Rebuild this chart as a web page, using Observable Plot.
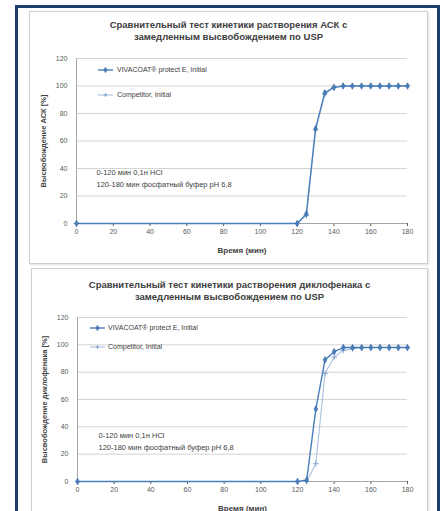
<!DOCTYPE html>
<html>
<head>
<meta charset="utf-8">
<script src="https://cdn.jsdelivr.net/npm/d3@7"></script>
<script src="https://cdn.jsdelivr.net/npm/@observablehq/plot@0.6"></script>
<style>
  body { margin:0; width:443px; height:511px; overflow:hidden; background:#fff; position:relative;
         font-family:"Liberation Sans", Arial, sans-serif; }
  #frame { position:absolute; left:15px; top:5px; width:419px; height:540px;
           border:3px solid #1d3e68; border-bottom:none; }
  .panel { position:absolute; background:#fff; border:1px solid #cfcfcf;
           box-shadow: 1px 1px 2px rgba(0,0,0,0.12); overflow:hidden; }
  .title { text-align:center; font-weight:bold; font-size:9.5px; line-height:12px; color:#404040; }
  .panel svg { display:block; }
</style>
</head>
<body>
<div id="frame"></div>
<div id="p1" class="panel" style="left:29px;top:11px;width:397px;height:251px"></div>
<div id="p2" class="panel" style="left:31px;top:268px;width:395px;height:262px"></div>
<script>
// ---- data ----
const time = [0, 120, 125, 130, 135, 140, 145, 150, 155, 160, 165, 170, 175, 180];
const ascVivacoat   = [0, 0, 7, 69, 95, 99, 100, 100, 100, 100, 100, 100, 100, 100];
const ascCompetitor = [0, 0, 6, 68, 94, 99, 100, 100, 100, 100, 100, 100, 100, 100];
const dicVivacoat   = [0, 0, 1, 53, 89, 95, 98, 98, 98, 98, 98, 98, 98, 98];
const dicCompetitor = [0, 0, 0, 13, 79, 91, 96, 97, 98, 98, 98, 98, 98, 98];
const seriesNames = ["VIVACOAT® protect E, Initial", "Competitor, Initial"];
const xTicks = [0, 20, 40, 60, 80, 100, 120, 140, 160, 180];
const yTicks = [0, 20, 40, 60, 80, 100, 120];
const gridTicks = [20, 40, 60, 80, 100, 120];
const titles1 = ["Сравнительный тест кинетики растворения АСК с", "замедленным высвобождением по USP"];
const titles2 = ["Сравнительный тест кинетики растворения диклофенака с", "замедленным высвобождением по USP"];
const yLabel1 = "Высвобождение АСК [%]";
const yLabel2 = "Высвобождение диклофенака [%]";
const xLabel = "Время (мин)";
const annotationLines = ["0-120 мин 0,1н HCl", "120-180 мин фосфатный буфер pH 6,8"];

// ---- styles ----
const styles = [
  {color: "#4a7ebb", width: 1.4, fill: "#4a7ebb", stroke: "#2f5f9e", r: 2},
  {color: "#a9c0e0", width: 1.1, fill: "none", stroke: "#7f9fcf", r: 2}
];

function legendMark(o) {
  return (index, scales, values, dim) => {
    const g = d3.create("svg:g")
      .attr("font-family", "Liberation Sans, Arial, sans-serif")
      .attr("font-size", 7).attr("fill", "#404040").attr("text-anchor", "start");
    const x0 = dim.marginLeft, y0 = dim.marginTop;
    const sym = [d3.symbolDiamond, d3.symbolCross];
    styles.forEach((st, i) => {
      const y = y0 + o.rows[i];
      g.append("line").attr("x1", x0 + o.lx1).attr("x2", x0 + o.lx2)
        .attr("y1", y).attr("y2", y).attr("stroke", st.color).attr("stroke-width", st.width);
      g.append("path").attr("d", d3.symbol(sym[i], i === 0 ? 9 : 6)())
        .attr("transform", `translate(${x0 + (o.lx1 + o.lx2) / 2},${y})`)
        .attr("fill", i === 0 ? st.fill : st.stroke).attr("stroke", st.stroke).attr("stroke-width", i === 0 ? 0.5 : 0);
      g.append("text").attr("x", x0 + o.tx).attr("y", y).attr("dy", "0.35em")
        .attr("text-anchor", "start").text(seriesNames[i]);
    });
    return g.node();
  };
}

function makeChart(o) {
  const panel = document.getElementById(o.id);
  const t = document.createElement("div");
  t.className = "title";
  t.style.paddingTop = o.titlePad + "px";
  t.style.height = (o.titleH - o.titlePad) + "px";
  t.innerHTML = o.titles.map(s => `<div>${s}</div>`).join("");
  panel.appendChild(t);

  const rows = [];
  [o.viv, o.comp].forEach((arr, si) => time.forEach((tt, i) => rows.push({t: tt, v: arr[i], s: si})));
  const viv = rows.filter(d => d.s === 0), comp = rows.filter(d => d.s === 1);

  const chart = Plot.plot({
    width: o.width, height: o.height,
    marginLeft: o.ml, marginRight: o.mr, marginTop: o.mt, marginBottom: o.mb,
    style: {fontFamily: "Liberation Sans, Arial, sans-serif", fontSize: "7px", color: "#595959", background: "#fff", overflow: "visible"},
    x: {domain: [0, 180], ticks: xTicks, tickSize: 3, tickPadding: 3, label: null},
    y: {domain: [0, 120], ticks: yTicks, tickSize: 0, tickPadding: 9, label: null},
    marks: [
      Plot.ruleY(gridTicks, {stroke: "#d4d4d4", strokeWidth: 1}),
      Plot.ruleY([0], {stroke: "#a6a6a6"}),
      Plot.ruleX([0], {stroke: "#a6a6a6"}),
      Plot.line(comp, {x: "t", y: "v", stroke: styles[1].color, strokeWidth: styles[1].width}),
      Plot.dot(comp, {x: "t", y: "v", symbol: "plus", r: styles[1].r, stroke: styles[1].stroke, strokeWidth: 0.9}),
      Plot.line(viv, {x: "t", y: "v", stroke: styles[0].color, strokeWidth: styles[0].width}),
      Plot.dot(viv, {x: "t", y: "v", symbol: "diamond", r: styles[0].r, fill: styles[0].fill, stroke: styles[0].stroke, strokeWidth: 0.5}),
      Plot.text([annotationLines.join("\n")], {text: d => d, frameAnchor: "top-left", dx: o.annX, dy: o.annY,
        textAnchor: "start", lineAnchor: "top", fontSize: 7.5, lineHeight: 1.5, fill: "#404040"}),
      Plot.text([xLabel], {text: d => d, frameAnchor: "bottom", dy: o.xLabelDy, textAnchor: "middle", fontWeight: "bold", fontSize: 8, fill: "#404040"}),
      Plot.text([o.yLabel], {text: d => d, frameAnchor: "left", dx: o.yLabelDx, rotate: -90, textAnchor: "middle", fontWeight: "bold", fontSize: 7.5, fill: "#404040"}),
      legendMark(o.legend)
    ]
  });
  panel.appendChild(chart);
}

makeChart({
  id: "p1", titles: titles1, titlePad: 7, titleH: 32,
  width: 397, height: 219, ml: 46, mr: 20, mt: 14, mb: 40,
  viv: ascVivacoat, comp: ascCompetitor,
  yLabel: yLabel1, yLabelDx: -33, xLabelDy: 29,
  annX: 20, annY: 109,
  legend: {rows: [12, 37], lx1: 22, lx2: 37, tx: 41}
});

makeChart({
  id: "p2", titles: titles2, titlePad: 10, titleH: 34,
  width: 395, height: 230, ml: 45, mr: 20, mt: 14, mb: 52,
  viv: dicVivacoat, comp: dicCompetitor,
  yLabel: yLabel2, yLabelDx: -33, xLabelDy: 29,
  annX: 21, annY: 113,
  legend: {rows: [11, 30], lx1: 13, lx2: 28, tx: 31}
});
</script>
</body>
</html>
